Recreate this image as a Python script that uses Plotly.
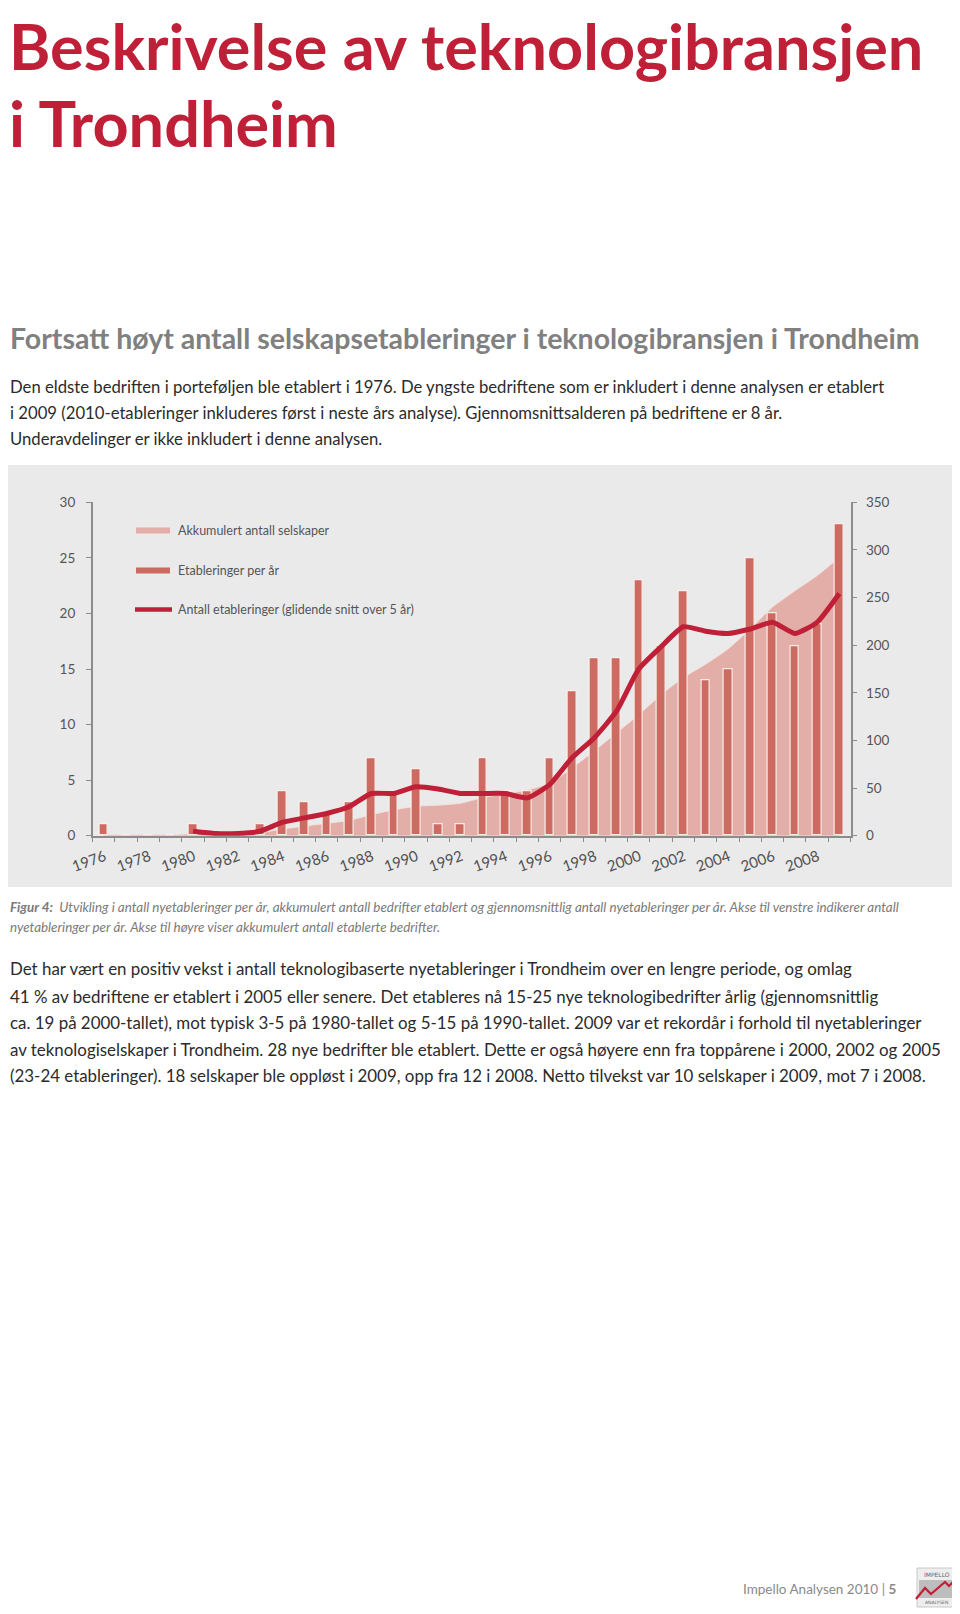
import plotly.graph_objects as go

# ---------------- data ----------------
years = list(range(1976, 2010))
etableringer = [1, 0, 0, 0, 1, 0, 0, 1, 4, 3,
                2, 3, 7, 4, 6, 1, 1, 7, 4, 4,
                7, 13, 16, 16, 23, 17, 22, 14, 15, 25,
                20, 17, 19, 28]
akkumulert = [1, 1, 1, 1, 2, 2, 2, 3, 7, 10,
              13, 16, 22, 27, 31, 32, 34, 40, 44, 48,
              55, 71, 89, 108, 127, 148, 166, 180, 196, 217,
              240, 257, 273, 292]
snitt_years = list(range(1980, 2010))
snitt = [0.4, 0.2, 0.2, 0.4, 1.2, 1.6, 2.0, 2.6, 3.8, 3.8,
         4.4, 4.2, 3.8, 3.8, 3.8, 3.4, 4.6, 7.0, 8.8, 11.2,
         15.0, 17.0, 18.8, 18.4, 18.2, 18.6, 19.2, 18.2, 19.2, 21.8]
label_years = list(range(1976, 2009, 2))
left_ticks = [0, 5, 10, 15, 20, 25, 30]
right_ticks = [0, 50, 100, 150, 200, 250, 300, 350]

legend_labels = ["Akkumulert antall selskaper",
                 "Etableringer per år",
                 "Antall etableringer (glidende snitt over 5 år)"]

title_lines = ["Beskrivelse av teknologibransjen", "i Trondheim"]
subtitle = "Fortsatt høyt antall selskapsetableringer i teknologibransjen i Trondheim"
intro_lines = [
    "Den eldste bedriften i porteføljen ble etablert i 1976. De yngste bedriftene som er inkludert i denne analysen er etablert",
    "i 2009 (2010-etableringer inkluderes først i neste års analyse). Gjennomsnittsalderen på bedriftene er 8 år.",
    "Underavdelinger er ikke inkludert i denne analysen.",
]
caption_lines = [
    "<b>Figur 4:</b>  Utvikling i antall nyetableringer per år, akkumulert antall bedrifter etablert og gjennomsnittlig antall nyetableringer per år. Akse til venstre indikerer antall",
    "nyetableringer per år. Akse til høyre viser akkumulert antall etablerte bedrifter.",
]
body_lines = [
    "Det har vært en positiv vekst i antall teknologibaserte nyetableringer i Trondheim over en lengre periode, og omlag",
    "41 % av bedriftene er etablert i 2005 eller senere. Det etableres nå 15-25 nye teknologibedrifter årlig (gjennomsnittlig",
    "ca. 19 på 2000-tallet), mot typisk 3-5 på 1980-tallet og 5-15 på 1990-tallet. 2009 var et rekordår i forhold til nyetableringer",
    "av teknologiselskaper i Trondheim. 28 nye bedrifter ble etablert. Dette er også høyere enn fra toppårene i 2000, 2002 og 2005",
    "(23-24 etableringer). 18 selskaper ble oppløst i 2009, opp fra 12 i 2008. Netto tilvekst var 10 selskaper i 2009, mot 7 i 2008.",
]
footer = "Impello Analysen 2010 | <b>5</b>"

# ---------------- styling ----------------
PAGE_W, PAGE_H = 960, 1614
OFF = 8                      # default page margin around the figure
W, H = PAGE_W - OFF, PAGE_H - OFF
RED = "#c01f38"
BAR = "#cd6b62"
AREA = "#e2aea7"
PANEL = "#eaeaeb"
AXIS = "#8c8c8c"
SANS = "Lato, Roboto, Liberation Sans, sans-serif"
TICKFONT = dict(family=SANS, size=13.5, color="#555555")


def px(x):
    return (x - OFF) / W


def py(y):
    return 1 - (y - OFF) / H


x_dom = [px(92.7), px(850.5)]
y_dom = [py(835.7), py(502.3)]

fig = go.Figure()

# accumulated area (right axis, main y)
fig.add_trace(go.Scatter(
    x=years, y=akkumulert, yaxis="y", mode="lines",
    line=dict(color="rgba(245,225,220,0.9)", width=1, shape="spline", smoothing=0.6),
    fill="tozeroy", fillcolor=AREA, showlegend=False, hoverinfo="skip"))

# establishments per year (left axis, y2)
fig.add_trace(go.Bar(
    x=years, y=etableringer, yaxis="y2", width=0.39,
    marker=dict(color=BAR, line=dict(color="rgba(250,240,236,0.95)", width=1.2)),
    showlegend=False))

# 5-year moving average (left axis, y2)
fig.add_trace(go.Scatter(
    x=snitt_years, y=snitt, yaxis="y2", mode="lines",
    line=dict(color=RED, width=5, shape="spline", smoothing=0.5),
    showlegend=False))

shapes = []
annotations = []

# grey chart panel
shapes.append(dict(type="rect", xref="paper", yref="paper",
                   x0=px(8), x1=px(954), y0=py(887), y1=py(465),
                   fillcolor=PANEL, line=dict(width=0), layer="below"))

# legend (custom swatches)
leg_y = [530.5, 570.5, 609.5]
shapes.append(dict(type="rect", xref="paper", yref="paper",
                   x0=px(136), x1=px(170), y0=py(leg_y[0] + 3), y1=py(leg_y[0] - 3),
                   fillcolor=AREA, line=dict(width=0)))
shapes.append(dict(type="rect", xref="paper", yref="paper",
                   x0=px(136), x1=px(170), y0=py(leg_y[1] + 3), y1=py(leg_y[1] - 3),
                   fillcolor=BAR, line=dict(width=0)))
shapes.append(dict(type="line", xref="paper", yref="paper",
                   x0=px(135), x1=px(172), y0=py(leg_y[2]), y1=py(leg_y[2]),
                   line=dict(color=RED, width=4.5)))
for lbl, yy in zip(legend_labels, leg_y):
    annotations.append(dict(text=lbl, xref="paper", yref="paper", x=px(176), y=py(yy),
                            xanchor="left", yanchor="middle", showarrow=False,
                            font=dict(family=SANS, size=12.5, color="#555555")))

# title
for txt, yy in zip(title_lines, [46, 122]):
    annotations.append(dict(text=txt, xref="paper", yref="paper", x=px(8), y=py(yy),
                            xanchor="left", yanchor="middle", showarrow=False, borderpad=0,
                            font=dict(family=SANS, size=63, color=RED, weight="bold")))
# subtitle
annotations.append(dict(text=subtitle, xref="paper", yref="paper", x=px(8), y=py(338),
                        xanchor="left", yanchor="middle", showarrow=False,
                        font=dict(family=SANS, size=28.5, color="#808080", weight="bold")))
# intro paragraph
for txt, yy in zip(intro_lines, [387, 413, 439]):
    annotations.append(dict(text=txt, xref="paper", yref="paper", x=px(8), y=py(yy),
                            xanchor="left", yanchor="middle", showarrow=False,
                            font=dict(family=SANS, size=16.7, color="#2b2b2b")))
# caption
for txt, yy in zip(caption_lines, [907, 927]):
    annotations.append(dict(text="<i>" + txt + "</i>", xref="paper", yref="paper", x=px(8), y=py(yy),
                            xanchor="left", yanchor="middle", showarrow=False,
                            font=dict(family=SANS, size=13.4, color="#7a7a7a")))
# body paragraph
for txt, yy in zip(body_lines, [969, 996, 1022, 1049, 1075]):
    annotations.append(dict(text=txt, xref="paper", yref="paper", x=px(8), y=py(yy),
                            xanchor="left", yanchor="middle", showarrow=False,
                            font=dict(family=SANS, size=16.9, color="#2b2b2b")))
# footer
annotations.append(dict(text=footer, xref="paper", yref="paper", x=px(898), y=py(1589),
                        xanchor="right", yanchor="middle", showarrow=False,
                        font=dict(family=SANS, size=13.5, color="#8a8a8a")))

# small logo
shapes.append(dict(type="rect", xref="paper", yref="paper",
                   x0=px(917), x1=px(956), y0=py(1607), y1=py(1568),
                   fillcolor="#eeeeee", line=dict(color="#c8c8c8", width=1)))
shapes.append(dict(type="rect", xref="paper", yref="paper",
                   x0=px(919), x1=px(954), y0=py(1598), y1=py(1580),
                   fillcolor="#bdbdbd", line=dict(width=0)))
logo_pts = [(916, 1599), (925, 1588), (931, 1594), (945, 1582), (949, 1586), (957, 1578)]
path = "M " + " L ".join(f"{px(a)},{py(b)}" for a, b in logo_pts)
shapes.append(dict(type="path", xref="paper", yref="paper", path=path,
                   line=dict(color="#c01f38", width=2.2)))
annotations.append(dict(text="IMPELLO", xref="paper", yref="paper", x=px(936.5), y=py(1574),
                        xanchor="center", yanchor="middle", showarrow=False,
                        font=dict(family="DejaVu Sans", size=6, color="#666")))
annotations.append(dict(text="ANALYSEN", xref="paper", yref="paper", x=px(936.5), y=py(1602.5),
                        xanchor="center", yanchor="middle", showarrow=False,
                        font=dict(family="DejaVu Sans", size=4.5, color="#666")))

fig.update_layout(
    width=W, height=H,
    margin=dict(l=0, r=0, t=0, b=0, pad=0, autoexpand=False),
    paper_bgcolor="white",
    plot_bgcolor="rgba(0,0,0,0)",
    showlegend=False,
    bargap=0,
    shapes=shapes,
    annotations=annotations,
    xaxis=dict(
        domain=x_dom, range=[1975.5, 2009.5], anchor="y", automargin=False,
        showline=True, linecolor=AXIS, linewidth=1.5,
        showgrid=False, zeroline=False,
        tickmode="array", tickvals=[y - 0.5 for y in label_years],
        ticktext=[str(y) for y in label_years],
        ticks="outside", ticklen=5, tickcolor=AXIS, tickwidth=1.3,
        tickangle=-20, ticklabelshift=12, ticklabelstandoff=0,
        tickfont=dict(family=SANS, size=15, color="#505050"),
        minor=dict(tickmode="linear", tick0=0.5, dtick=1, ticks="outside",
                   ticklen=5, tickcolor=AXIS, tickwidth=1.3, showgrid=False),
    ),
    yaxis=dict(
        domain=y_dom, range=[0, 350], side="right", anchor="x", automargin=False,
        showline=True, linecolor=AXIS, linewidth=1.5,
        showgrid=False, zeroline=False,
        tickmode="array", tickvals=right_ticks,
        ticks="outside", ticklen=5, tickcolor=AXIS, tickwidth=1.3,
        ticklabelstandoff=6, tickfont=TICKFONT,
    ),
    yaxis2=dict(
        domain=y_dom, range=[0, 30], side="left", anchor="x", overlaying="y", automargin=False,
        showline=True, linecolor=AXIS, linewidth=1.5,
        showgrid=False, zeroline=False,
        tickmode="array", tickvals=left_ticks,
        ticks="outside", ticklen=5, tickcolor=AXIS, tickwidth=1.3,
        ticklabelstandoff=8, tickfont=TICKFONT,
    ),
)

fig.write_html("out.html")
